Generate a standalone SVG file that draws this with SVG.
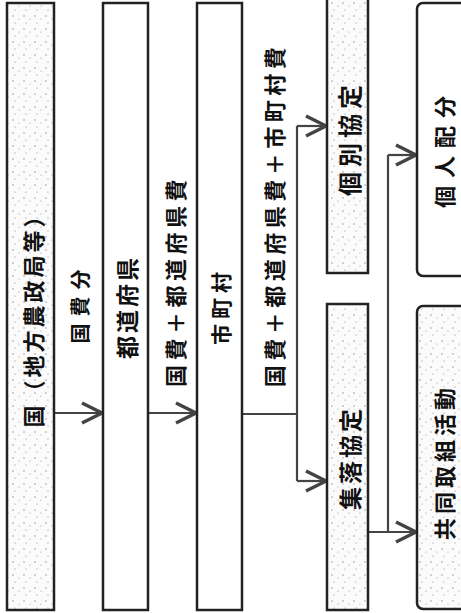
<svg xmlns="http://www.w3.org/2000/svg" width="461" height="613" viewBox="0 0 461 613">
<defs>
<pattern id="dots" width="11" height="13" patternUnits="userSpaceOnUse">
<rect width="11" height="13" fill="#fbfbfb"/>
<circle cx="2" cy="3" r="0.7" fill="#888"/>
<circle cx="8" cy="6" r="0.6" fill="#999"/>
<circle cx="4" cy="10" r="0.6" fill="#888"/>
</pattern>
<marker id="chev" markerUnits="userSpaceOnUse" markerWidth="26" markerHeight="26" viewBox="-22 -13 26 26" refX="0" refY="0" orient="auto">
<path d="M-20,-10 L0,0 L-20,10" fill="none" stroke="#444" stroke-width="3.5" stroke-linejoin="miter"/>
</marker>
<style>
.box{stroke:#222;stroke-width:2.5;}
.plain{fill:#fff;}
.dot{fill:url(#dots);}
.ln{fill:none;stroke:#444;stroke-width:2.2;}
text{font-family:"Noto Sans CJK JP","Noto Sans",sans-serif;font-weight:bold;fill:#111;text-anchor:middle;dominant-baseline:central;}
</style>
</defs>
<rect width="461" height="613" fill="#fff"/>
<g id="connectors">
<line class="ln" x1="54" y1="413" x2="102" y2="413" marker-end="url(#chev)"/>
<line class="ln" x1="148" y1="413" x2="196" y2="413" marker-end="url(#chev)"/>
<polyline class="ln" points="242,414 297,414"/>
<line class="ln" x1="297" y1="126" x2="297" y2="481"/>
<line class="ln" x1="297" y1="126" x2="326" y2="126" marker-end="url(#chev)"/>
<line class="ln" x1="297" y1="481" x2="326" y2="481" marker-end="url(#chev)"/>
<line class="ln" x1="368" y1="532" x2="416" y2="532" marker-end="url(#chev)"/>
<line class="ln" x1="388" y1="532" x2="388" y2="155"/>
<line class="ln" x1="388" y1="155" x2="416" y2="155" marker-end="url(#chev)"/>
<text x="79" y="303" transform="rotate(-90 79 303)" style="font-size:20px;letter-spacing:7px">国費分</text>
<text x="174" y="281" transform="rotate(-90 174 281)" style="font-size:22px;letter-spacing:4.5px">国費＋都道府県費</text>
<text x="273" y="215" transform="rotate(-90 273 215)" style="font-size:22px;letter-spacing:4.5px">国費＋都道府県費＋市町村費</text>
</g>
<g id="kuni">
<rect class="box dot" x="7" y="3" width="47" height="607"/>
<text x="32" y="315" transform="rotate(-90 32 315)" style="font-size:22px;letter-spacing:3px">国（地方農政局等）</text>
</g>
<g id="todofuken">
<rect class="box plain" x="103" y="3" width="45" height="607"/>
<text x="126" y="307" transform="rotate(-90 126 307)" style="font-size:23px;letter-spacing:3px">都道府県</text>
</g>
<g id="shichoson">
<rect class="box plain" x="197" y="3" width="45" height="607"/>
<text x="220" y="306" transform="rotate(-90 220 306)" style="font-size:21px;letter-spacing:5px">市町村</text>
</g>
<g id="kobetsu">
<rect class="box dot" x="327" y="-5" width="41" height="278"/>
<text x="348" y="138" transform="rotate(-90 348 138)" style="font-size:24px;letter-spacing:5px">個別協定</text>
</g>
<g id="shuraku">
<rect class="box dot" x="327" y="304" width="41" height="306"/>
<text x="349" y="458" transform="rotate(-90 349 458)" style="font-size:23px;letter-spacing:3px">集落協定</text>
</g>
<g id="kojin">
<rect class="box plain" x="417" y="3" width="60" height="273" rx="6"/>
<text x="443" y="148" transform="rotate(-90 443 148)" style="font-size:22px;letter-spacing:8px">個人配分</text>
</g>
<g id="kyodo">
<rect class="box dot" x="417" y="306" width="60" height="303" rx="6"/>
<text x="443" y="462" transform="rotate(-90 443 462)" style="font-size:22px;letter-spacing:4px">共同取組活動</text>
</g>
</svg>
